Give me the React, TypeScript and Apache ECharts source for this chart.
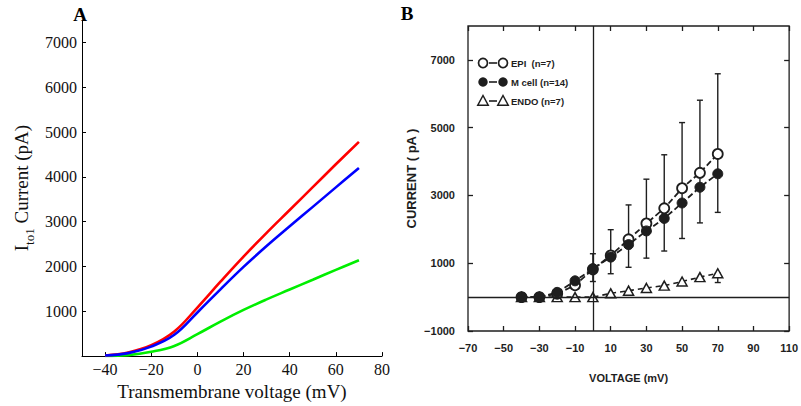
import React, { useEffect, useRef } from 'react';
import * as echarts from 'echarts';

// ---------- Panel A (model curves) ----------
const voltA = [-40, -30, -20, -10, 0, 10, 20, 30, 40, 50, 60, 70];
const redA = [15, 80, 242, 549, 1084, 1660, 2220, 2750, 3260, 3770, 4280, 4780];
const blueA = [12, 66, 212, 476, 974, 1490, 1990, 2455, 2895, 3330, 3765, 4200];
const greenA = [5, 22, 95, 227, 490, 770, 1030, 1265, 1485, 1705, 1925, 2140];
const xTicksA = [-40, -20, 0, 20, 40, 60, 80];
const yTicksA = [1000, 2000, 3000, 4000, 5000, 6000, 7000];

// ---------- Panel B (experimental data) ----------
const voltB = [-40, -30, -20, -10, 0, 10, 20, 30, 40, 50, 60, 70];
const epiB = [0, 0, 100, 350, 820, 1230, 1706, 2173, 2620, 3214, 3669, 4225];
const mcellB = [0, 0, 140, 480, 836, 1180, 1550, 1953, 2322, 2777, 3242, 3639];
const endoB = [0, 0, 0, 0, 0, 110, 190, 270, 340, 460, 590, 705];
const errVolt = [0, 10, 20, 30, 40, 50, 60, 70];
const errLow = [460, 690, 880, 1150, 1360, 1730, 2190, 2500];
const errHigh = [1280, 1990, 2720, 3480, 4200, 5150, 5810, 6590];
const endoErrVolt = [70];
const endoErrLow = [430];
const endoErrHigh = [705];
const xTicksB = [-70, -50, -30, -10, 10, 30, 50, 70, 90, 110];
const yTicksB = [-1000, 1000, 3000, 5000, 7000];
const legendB = ['EPI  (n=7)', 'M cell (n=14)', 'ENDO (n=7)'];

const serif = "'Liberation Serif', 'DejaVu Serif', serif";
const sans = "'Liberation Sans', Arial, sans-serif";
const ink = '#1e1e1e';

const minus = (v: number) => (v < 0 ? '\u2212' + Math.abs(v) : String(v));

export default function App() {
  const ref = useRef<HTMLDivElement>(null);
  useEffect(() => {
    if (!ref.current) return;
    const chart = echarts.init(ref.current, undefined, { renderer: 'svg' });

    const pair = (xs: number[], ys: number[]) => xs.map((x, i) => [x, ys[i]]);
    const errData = (xs: number[], lo: number[], hi: number[]) => xs.map((x, i) => [x, lo[i], hi[i]]);

    const errRender = (params: any, api: any) => {
      const x = api.value(0);
      const p1 = api.coord([x, api.value(1)]);
      const p2 = api.coord([x, api.value(2)]);
      const cap = 3;
      const style = { stroke: ink, lineWidth: 1.4 };
      return {
        type: 'group',
        children: [
          { type: 'line', shape: { x1: p1[0], y1: p1[1], x2: p2[0], y2: p2[1] }, style },
          { type: 'line', shape: { x1: p1[0] - cap, y1: p1[1], x2: p1[0] + cap, y2: p1[1] }, style },
          { type: 'line', shape: { x1: p2[0] - cap, y1: p2[1], x2: p2[0] + cap, y2: p2[1] }, style },
        ],
      };
    };

    const legendRows = [63, 82, 101];
    const lgX1 = 483, lgX2 = 503, lgT = 511;
    const tri = (cx: number, cy: number, r: number) => [
      [cx, cy - r],
      [cx + r * 0.95, cy + r * 0.75],
      [cx - r * 0.95, cy + r * 0.75],
    ];
    const legendGraphics: any[] = [];
    legendRows.forEach((y, i) => {
      legendGraphics.push({ type: 'line', shape: { x1: lgX1 + 6, y1: y, x2: lgX2 - 6, y2: y }, style: { stroke: ink, lineWidth: 1.6 } });
      if (i === 0) {
        legendGraphics.push({ type: 'circle', shape: { cx: lgX1, cy: y, r: 4.5 }, style: { fill: '#fff', stroke: ink, lineWidth: 1.7 } });
        legendGraphics.push({ type: 'circle', shape: { cx: lgX2, cy: y, r: 4.5 }, style: { fill: '#fff', stroke: ink, lineWidth: 1.7 } });
      } else if (i === 1) {
        legendGraphics.push({ type: 'circle', shape: { cx: lgX1, cy: y, r: 4.7 }, style: { fill: ink } });
        legendGraphics.push({ type: 'circle', shape: { cx: lgX2, cy: y, r: 4.7 }, style: { fill: ink } });
      } else {
        legendGraphics.push({ type: 'polygon', shape: { points: tri(lgX1, y, 5.5) }, style: { fill: '#fff', stroke: ink, lineWidth: 1.5 } });
        legendGraphics.push({ type: 'polygon', shape: { points: tri(lgX2, y, 5.5) }, style: { fill: '#fff', stroke: ink, lineWidth: 1.5 } });
      }
      legendGraphics.push({
        type: 'text', x: lgT, y: y,
        style: { text: legendB[i], fill: ink, font: `bold 9.5px ${sans}`, verticalAlign: 'middle', align: 'left' },
      });
    });

    const hidden = { show: false };

    const option: any = {
      animation: false,
      backgroundColor: '#ffffff',
      grid: [
        { left: 82, top: 20, width: 300, height: 341, show: false },
        { left: 468, top: 26, width: 327, height: 305, show: true, borderColor: ink, borderWidth: 1.3, backgroundColor: 'transparent' },
      ],
      xAxis: [
        {
          gridIndex: 0, type: 'value', min: -50, max: 80,
          axisLine: { show: true, onZero: false, lineStyle: { color: '#000', width: 1 } },
          axisTick: { show: true, inside: true, length: 4, customValues: xTicksA, lineStyle: { color: '#000' } },
          axisLabel: { customValues: xTicksA, formatter: minus, fontFamily: serif, fontSize: 16, color: '#111', margin: 5 },
          splitLine: hidden,
          name: 'Transmembrane voltage (mV)', nameLocation: 'middle', nameGap: 24,
          nameTextStyle: { fontFamily: serif, fontSize: 19, color: '#111' },
        },
        {
          gridIndex: 1, type: 'value', min: -70, max: 110, position: 'bottom',
          axisLine: { show: false, onZero: false },
          axisTick: { show: true, inside: true, length: 5, customValues: xTicksB, lineStyle: { color: ink, width: 1.3 } },
          axisLabel: { customValues: xTicksB, formatter: minus, fontFamily: sans, fontWeight: 'bold', fontSize: 11, color: ink, margin: 11 },
          splitLine: hidden,
          name: 'VOLTAGE (mV)', nameLocation: 'middle', nameGap: 41,
          nameTextStyle: { fontFamily: sans, fontSize: 11, fontWeight: 'bold', color: ink },
        },
        {
          gridIndex: 1, type: 'value', min: -70, max: 110, position: 'top',
          axisLine: { show: false, onZero: false },
          axisTick: { show: true, inside: true, length: 5, customValues: xTicksB, lineStyle: { color: ink, width: 1.3 } },
          axisLabel: { show: false },
          splitLine: hidden,
        },
      ],
      yAxis: [
        {
          gridIndex: 0, type: 'value', min: 0, max: 7500,
          axisLine: { show: true, onZero: false, lineStyle: { color: '#000', width: 1 } },
          axisTick: { show: true, inside: true, length: 4, customValues: yTicksA, lineStyle: { color: '#000' } },
          axisLabel: { customValues: yTicksA, formatter: (v: number) => String(v), fontFamily: serif, fontSize: 16, color: '#111', margin: 5 },
          splitLine: hidden,
          name: '{m|I}{s|to1}{m| Current (pA)}', nameLocation: 'middle', nameGap: 46, nameRotate: 90,
          nameTextStyle: {
            rich: {
              m: { fontFamily: serif, fontSize: 19, color: '#111' },
              s: { fontFamily: serif, fontSize: 13, color: '#111', padding: [16, 0, 0, 0] },
            },
          },
        },
        {
          gridIndex: 1, type: 'value', min: -1000, max: 8000, position: 'left',
          axisLine: { show: false, onZero: false },
          axisTick: { show: true, inside: true, length: 5, customValues: yTicksB, lineStyle: { color: ink, width: 1.3 } },
          axisLabel: { customValues: yTicksB, formatter: minus, fontFamily: sans, fontWeight: 'bold', fontSize: 11, color: ink, margin: 13 },
          splitLine: hidden,
          name: 'CURRENT ( pA )', nameLocation: 'middle', nameGap: 50, nameRotate: 90,
          nameTextStyle: { fontFamily: sans, fontSize: 13, fontWeight: 'bold', color: ink },
        },
        {
          gridIndex: 1, type: 'value', min: -1000, max: 8000, position: 'right',
          axisLine: { show: false, onZero: false },
          axisTick: { show: true, inside: true, length: 5, customValues: yTicksB, lineStyle: { color: ink, width: 1.3 } },
          axisLabel: { show: false },
          splitLine: hidden,
        },
      ],
      series: [
        { type: 'line', xAxisIndex: 0, yAxisIndex: 0, data: pair(voltA, greenA), smooth: 0.4, showSymbol: false, lineStyle: { color: '#00ee00', width: 2.6 } },
        { type: 'line', xAxisIndex: 0, yAxisIndex: 0, data: pair(voltA, redA), smooth: 0.4, showSymbol: false, lineStyle: { color: '#ff0000', width: 2.6 } },
        { type: 'line', xAxisIndex: 0, yAxisIndex: 0, data: pair(voltA, blueA), smooth: 0.4, showSymbol: false, lineStyle: { color: '#0000ff', width: 2.6 } },
        {
          type: 'custom', xAxisIndex: 1, yAxisIndex: 1, renderItem: errRender,
          data: errData(errVolt, errLow, errHigh), z: 1,
          markLine: {
            silent: true, symbol: 'none', label: { show: false },
            lineStyle: { color: ink, width: 1.3, type: 'solid' },
            data: [{ yAxis: 0 }, { xAxis: 0 }],
          },
        },
        { type: 'custom', xAxisIndex: 1, yAxisIndex: 1, renderItem: errRender, data: errData(endoErrVolt, endoErrLow, endoErrHigh), z: 1 },
        {
          type: 'line', xAxisIndex: 1, yAxisIndex: 1, data: pair(voltB, endoB), z: 3,
          symbol: 'triangle', symbolSize: [10, 9],
          itemStyle: { color: '#fff', borderColor: ink, borderWidth: 1.5 },
          lineStyle: { color: ink, width: 1.6, type: [5, 4] },
        },
        {
          type: 'line', xAxisIndex: 1, yAxisIndex: 1, data: pair(voltB, epiB), z: 4,
          symbol: 'circle', symbolSize: 10,
          itemStyle: { color: '#fff', borderColor: ink, borderWidth: 1.8 },
          lineStyle: { color: ink, width: 1.8, type: [6, 3] },
        },
        {
          type: 'line', xAxisIndex: 1, yAxisIndex: 1, data: pair(voltB, mcellB), z: 5,
          symbol: 'circle', symbolSize: 10,
          itemStyle: { color: ink, borderColor: ink, borderWidth: 1 },
          lineStyle: { color: ink, width: 1.8, type: [6, 3] },
        },
      ],
      graphic: [
        { type: 'text', x: 80, y: 14, style: { text: 'A', font: `bold 19px ${serif}`, fill: '#000', align: 'center', verticalAlign: 'middle' } },
        { type: 'text', x: 407, y: 13, style: { text: 'B', font: `bold 19px ${serif}`, fill: '#000', align: 'center', verticalAlign: 'middle' } },
        ...legendGraphics,
      ],
    };

    chart.setOption(option);
    return () => chart.dispose();
  }, []);

  return (
    <div
      ref={ref}
      style={{ position: 'fixed', left: 0, top: 0, width: 801, height: 406, background: '#fff' }}
    />
  );
}
